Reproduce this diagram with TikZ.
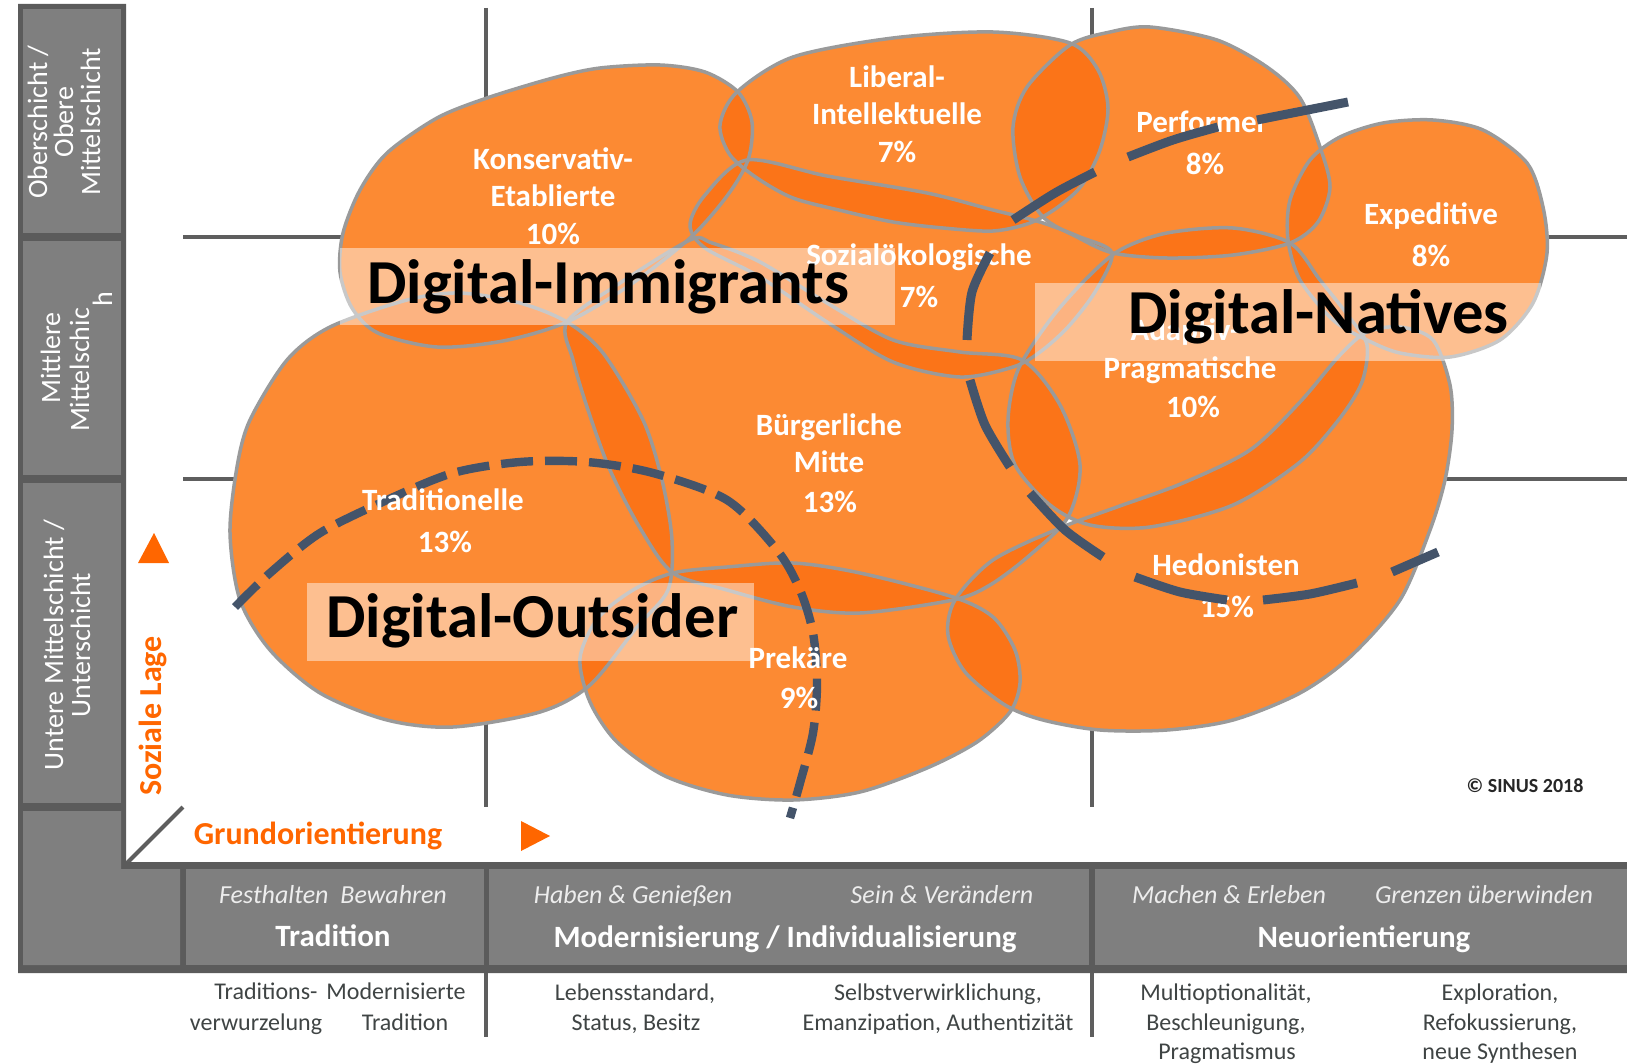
\documentclass[tikz,border=0pt]{standalone}
\usepackage{fontspec}
\setmainfont{Carlito}
\definecolor{orl}{HTML}{FC8A33}
\definecolor{ord}{HTML}{FB7418}
\definecolor{blobline}{HTML}{9A9A9A}
\definecolor{gridc}{HTML}{5E5E5E}
\definecolor{bandd}{HTML}{5B5B5B}
\definecolor{bandl}{HTML}{7F7F7F}
\definecolor{dashc}{HTML}{44546A}
\definecolor{orangetext}{HTML}{FF6600}
\definecolor{lowtext}{HTML}{3F4444}
\def\blobK{plot[smooth cycle] coordinates {(343,233) (340,272) (352,308) (378,333) (437,347) (503,341) (567,322) (630,285) (690,238) (727,196) (748,160) (752,122) (738,92) (705,72) (660,65) (600,68) (553,78) (487,98) (437,118) (387,153) (360,190)}}
\def\blobL{plot[smooth cycle] coordinates {(720,125) (737,92) (793,57) (893,38) (993,32) (1070,43) (1098,70) (1108,108) (1100,150) (1082,185) (1058,207) (1030,223) (993,231) (943,228) (893,222) (843,211) (793,198) (757,178) (730,155)}}
\def\blobP{plot[smooth cycle] coordinates {(1027,87) (1070,45) (1110,32) (1150,27) (1217,40) (1267,67) (1300,98) (1320,147) (1330,187) (1318,222) (1290,243) (1233,255) (1167,258) (1113,253) (1077,237) (1043,217) (1020,177) (1013,127)}}
\def\blobE{plot[smooth cycle] coordinates {(1340,137) (1383,123) (1433,120) (1483,130) (1527,163) (1543,207) (1547,253) (1533,303) (1500,340) (1450,357) (1400,353) (1367,340) (1333,320) (1300,280) (1288,240) (1290,200) (1310,160)}}
\def\blobS{plot[smooth cycle] coordinates {(747,160) (827,176) (927,193) (993,210) (1040,222) (1080,237) (1112,253) (1095,292) (1068,327) (1040,352) (1013,367) (960,377) (893,362) (827,322) (760,277) (705,248) (690,225) (705,195)}}
\def\blobA{plot[smooth cycle] coordinates {(1120,250) (1167,233) (1233,228) (1290,243) (1320,280) (1350,318) (1367,345) (1362,382) (1340,418) (1300,462) (1233,505) (1150,527) (1090,525) (1050,505) (1015,465) (1008,420) (1018,370) (1050,320) (1085,280)}}
\def\blobB{plot[smooth cycle] coordinates {(567,322) (620,283) (690,240) (712,243) (760,262) (827,303) (893,340) (960,352) (1022,360) (1060,405) (1080,465) (1068,517) (1030,555) (990,585) (953,600) (860,613) (793,607) (727,590) (673,573) (640,528) (610,470) (588,410) (573,360)}}
\def\blobT{plot[smooth cycle] coordinates {(237,467) (250,420) (287,360) (330,327) (407,300) (460,293) (520,303) (567,322) (603,353) (643,420) (662,480) (672,540) (668,590) (637,627) (590,685) (540,712) (453,727) (387,720) (320,693) (270,650) (240,600) (230,533)}}
\def\blobR{plot[smooth cycle] coordinates {(673,573) (727,567) (793,563) (860,573) (953,597) (993,617) (1015,650) (1020,683) (1010,712) (977,742) (927,768) (860,792) (793,800) (727,795) (665,776) (617,742) (590,702) (580,658) (598,618) (633,590)}}
\def\blobH{plot[smooth cycle] coordinates {(955,600) (993,560) (1060,528) (1117,507) (1183,483) (1250,450) (1300,402) (1340,355) (1367,332) (1400,327) (1433,340) (1450,385) (1452,430) (1445,480) (1430,530) (1400,600) (1350,657) (1300,693) (1233,720) (1167,730) (1100,730) (1043,720) (1005,705) (965,672) (948,635)}}
\newcommand\ovl[2]{\begin{scope}\clip #1;\fill[ord] #2;\end{scope}}
\begin{document}
\begin{tikzpicture}[x=0.5pt,y=-0.5pt,line join=round,
  lbl/.style={text=white,font=\fontsize{15.5}{18}\selectfont\bfseries,anchor=base,inner sep=0pt},
  big/.style={text=black,font=\fontsize{31.3}{36}\selectfont\bfseries,anchor=base west,inner sep=0pt},
  colt/.style={text=white,font=\fontsize{14}{14}\selectfont,rotate=90,anchor=base,inner sep=0pt},
  bandi/.style={text=white!93!black,font=\fontsize{13}{15}\selectfont\itshape,anchor=base,inner sep=0pt},
  bandb/.style={text=white,font=\fontsize{15.5}{18}\selectfont\bfseries,anchor=base,inner sep=0pt},
  low/.style={text=lowtext,font=\fontsize{12}{14}\selectfont,anchor=base,inner sep=0pt},
  gridl/.style={draw=gridc,line width=2pt},
  outl/.style={draw=blobline,line width=1.75pt},
  dnline/.style={draw=dashc,line width=4.5pt},
  dbar/.style={fill=white,fill opacity=0.46},
  oratext/.style={text=orangetext,font=\fontsize{16}{18}\selectfont\bfseries,inner sep=0pt}]
\useasboundingbox (0,0) rectangle (1627,1064);
% grid
\draw[gridl] (486,8) -- (486,807);
\draw[gridl] (1092,8) -- (1092,807);
\draw[gridl] (183,237) -- (1627,237);
\draw[gridl] (183,479) -- (1627,479);
\draw[gridl] (127,863) -- (183,807);
% left column and band
\fill[bandd] (18,4) -- (126,4) -- (126,862) -- (1627,862) -- (1627,973) -- (18,973) -- cycle;
\fill[bandl] (23,9) rectangle (121,233);
\fill[bandl] (23,241) rectangle (121,475);
\fill[bandl] (23,483) rectangle (121,803);
\fill[bandl] (23,811) -- (121,811) -- (121,869) -- (180,869) -- (180,965) -- (23,965) -- cycle;
\fill[bandl] (186,869) rectangle (484,965);
\fill[bandl] (489,869) rectangle (1089,965);
\fill[bandl] (1095,869) rectangle (1627,965);
\draw[gridl] (486,973) -- (486,1037);
\draw[gridl] (1092,973) -- (1092,1037);
% blobs
\fill[orl] \blobK; \fill[orl] \blobL; \fill[orl] \blobP; \fill[orl] \blobE; \fill[orl] \blobS;
\fill[orl] \blobA; \fill[orl] \blobB; \fill[orl] \blobT; \fill[orl] \blobR; \fill[orl] \blobH;
\ovl{\blobK}{\blobL} \ovl{\blobK}{\blobS} \ovl{\blobK}{\blobT} \ovl{\blobK}{\blobB}
\ovl{\blobL}{\blobS} \ovl{\blobL}{\blobP} \ovl{\blobP}{\blobE} \ovl{\blobP}{\blobA}
\ovl{\blobP}{\blobS} \ovl{\blobE}{\blobA} \ovl{\blobE}{\blobH} \ovl{\blobS}{\blobB}
\ovl{\blobS}{\blobA} \ovl{\blobB}{\blobT} \ovl{\blobB}{\blobR} \ovl{\blobB}{\blobA}
\ovl{\blobB}{\blobH} \ovl{\blobT}{\blobR} \ovl{\blobR}{\blobH} \ovl{\blobA}{\blobH}
\draw[outl] \blobK; \draw[outl] \blobL; \draw[outl] \blobP; \draw[outl] \blobE; \draw[outl] \blobS;
\draw[outl] \blobA; \draw[outl] \blobB; \draw[outl] \blobT; \draw[outl] \blobR; \draw[outl] \blobH;
% Digital-Outsider boundary
\draw[draw=dashc,line width=4.2pt,dash pattern=on 16pt off 6pt] plot[smooth] coordinates {(235,607) (270,573) (320,533) (387,500) (453,473) (520,462) (587,462) (653,473) (727,500) (777,550) (800,590) (813,633) (817,683) (813,733) (800,783) (790,818)};
% milieu labels
\node[lbl] (k1) at (553,170) {Konservativ-};
\node[lbl] (k2) at (553,207) {Etablierte};
\node[lbl] (k3) at (553,245) {10\%};
\node[lbl] (l1) at (897,88) {Liberal-};
\node[lbl] (l2) at (897,125) {Intellektuelle};
\node[lbl] (l3) at (897,163) {7\%};
\node[lbl] (p1) at (1202,133) {Performer};
\node[lbl] (p2) at (1205,175) {8\%};
\node[lbl] (e1) at (1431,225) {Expeditive};
\node[lbl] (e2) at (1431,267) {8\%};
\node[lbl] (s1) at (919,265) {Sozialökologische};
\node[lbl] (s2) at (919,307) {7\%};
\node[lbl] (a1) at (1185,340) {Adaptiv-};
\node[lbl] (a2) at (1190,378) {Pragmatische};
\node[lbl] (a3) at (1193,417) {10\%};
\node[lbl] (b1) at (829,435) {Bürgerliche};
\node[lbl] (b2) at (829,472) {Mitte};
\node[lbl] (b3) at (830,512) {13\%};
\node[lbl] (t1) at (443,510) {Traditionelle};
\node[lbl] (t2) at (445,552) {13\%};
\node[lbl] (r1) at (798,668) {Prekäre};
\node[lbl] (r2) at (799,708) {9\%};
\node[lbl] (h1) at (1226,575) {Hedonisten};
\node[lbl] (h2) at (1227,617) {15\%};
% bars and big labels
\fill[dbar] (340,248) rectangle (895,325);
\fill[dbar] (1035,283) rectangle (1541,361);
\fill[dbar] (307,583) rectangle (754,661);
\node[big] (di) at (367,303) {Digital-Immigrants};
\node[big] (dn) at (1128,333) {Digital-Natives};
\node[big] (do) at (326,637) {Digital-Outsider};
% Digital-Natives boundary
\draw[dnline] (1348,102) -- (1257,120);
\draw[dnline] plot[smooth] coordinates {(1218,127) (1173,140) (1128,157)};
\draw[dnline] plot[smooth] coordinates {(1095,172) (1055,193) (1013,220)};
\draw[dnline] plot[smooth] coordinates {(990,253) (972,292) (967,340)};
\draw[dnline] plot[smooth] coordinates {(970,380) (985,425) (1010,467)};
\draw[dnline] plot[smooth] coordinates {(1030,493) (1065,530) (1103,557)};
\draw[dnline] plot[smooth] coordinates {(1135,577) (1180,592) (1227,600)};
\draw[dnline] plot[smooth] coordinates {(1263,600) (1310,594) (1357,583)};
\draw[dnline] (1392,572) -- (1438,552);
% left column texts
\node[colt] (c1a) at (47,122) {Oberschicht /};
\node[colt] (c1b) at (73,122) {Obere};
\node[colt] (c1c) at (100,122) {Mittelschicht};
\node[colt] (c2a) at (60,358) {Mittlere};
\node[colt] (c2b) at (89,370) {Mittelschic};
\node[colt] (c2c) at (112,299) {h};
\node[colt] (c3a) at (63,645) {Untere Mittelschicht /};
\node[colt] (c3b) at (90,645) {Unterschicht};
% axes labels
\node[oratext,rotate=90,anchor=base] (soz) at (161,716) {Soziale Lage};
\fill[orangetext] (138,563) -- (169,563) -- (154,533) -- cycle;
\node[oratext,anchor=base] (gro) at (318,844) {Grundorientierung};
\fill[orangetext] (521,821) -- (521,851) -- (550,836) -- cycle;
\node[text=black!85,font=\fontsize{10}{12}\selectfont\bfseries,anchor=base,inner sep=0pt] (cop) at (1525,792) {© SINUS 2018};
% band texts
\node[bandi] (f1) at (333,903) {Festhalten\ \ Bewahren};
\node[bandb] (f2) at (333,946) {Tradition};
\node[bandi] (f3) at (633,903) {Haben \& Genießen};
\node[bandi] (f4) at (942,903) {Sein \& Verändern};
\node[bandb] (f5) at (785,947) {Modernisierung / Individualisierung};
\node[bandi] (f6) at (1229,903) {Machen \& Erleben};
\node[bandi] (f7) at (1484,903) {Grenzen überwinden};
\node[bandb] (f8) at (1364,947) {Neuorientierung};
% lower texts
\node[low] (g1) at (266,999) {Traditions-};
\node[low] (g2) at (396,999) {Modernisierte};
\node[low] (g3) at (256,1030) {verwurzelung};
\node[low] (g4) at (405,1030) {Tradition};
\node[low] (g5) at (635,1000) {Lebensstandard,};
\node[low] (g6) at (636,1030) {Status, Besitz};
\node[low] (g7) at (938,1000) {Selbstverwirklichung,};
\node[low] (g8) at (938,1030) {Emanzipation, Authentizität};
\node[low] (g9) at (1226,1000) {Multioptionalität,};
\node[low] (g10) at (1226,1030) {Beschleunigung,};
\node[low] (g11) at (1227,1059) {Pragmatismus};
\node[low] (g12) at (1500,1000) {Exploration,};
\node[low] (g13) at (1500,1030) {Refokussierung,};
\node[low] (g14) at (1500,1059) {neue Synthesen};
\end{tikzpicture}
\end{document}
